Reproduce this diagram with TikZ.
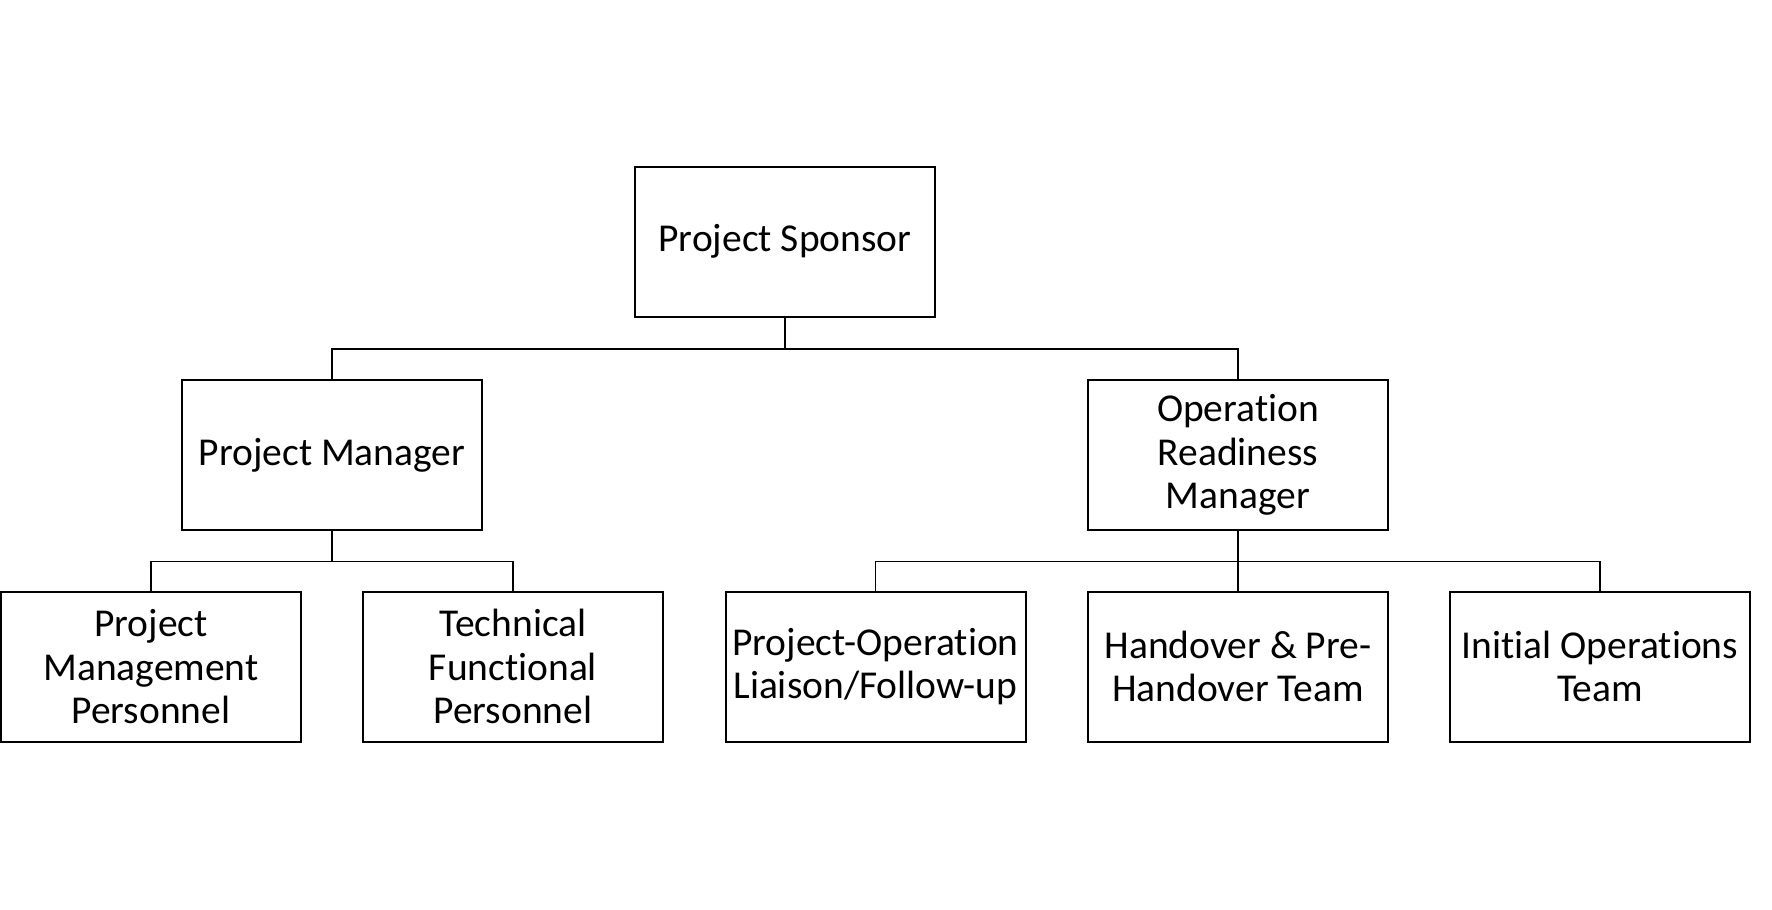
\documentclass[tikz,border=0pt]{standalone}
\usepackage{fontspec}
\setmainfont{Carlito}[Ligatures=CommonOff]
\begin{document}
\begin{tikzpicture}[x=0.5pt,y=-0.5pt,
  box/.style={draw,line width=1pt,minimum width=150pt,minimum height=75pt,inner sep=0pt,align=center,font=\fontsize{19.75}{21.7}\selectfont},
  conn/.style={line width=0.8pt}]
\useasboundingbox (0,0) rectangle (1772,910);
\node[box] (sp) at (785,241.7) {\raisebox{-1.5pt}{Project Sponsor}};
\node[box] (pm) at (332,455) {Project Manager};
\node[box] (orm) at (1238,455) {Operation\\Readiness\\Manager};
\node[box] (pmp) at (151,666.7) {Project\\Management\\Personnel};
\node[box] (tfp) at (513,666.7) {Technical\\Functional\\Personnel};
\node[box] (pol) at (875.5,666.7) {Project-Operation\\Liaison/Follow-up};
\node[box] (hpt) at (1238,666.7) {Handover \& Pre-\\Handover Team};
\node[box] (iot) at (1600,666.7) {Initial Operations\\Team};
\coordinate (b1) at (785,348.7);
\coordinate (b2) at (332,561.3);
\coordinate (b3) at (1238,561.5);
\draw[conn] (sp.south) -- (b1);
\draw[conn] (pm.north) |- (b1) -| (orm.north);
\draw[conn] (pm.south) -- (b2);
\draw[conn] (pmp.north) |- (b2) -| (tfp.north);
\draw[conn] (orm.south) -- (b3) -- (hpt.north);
\draw[conn] (pol.north) |- (b3) -| (iot.north);
\end{tikzpicture}
\end{document}
